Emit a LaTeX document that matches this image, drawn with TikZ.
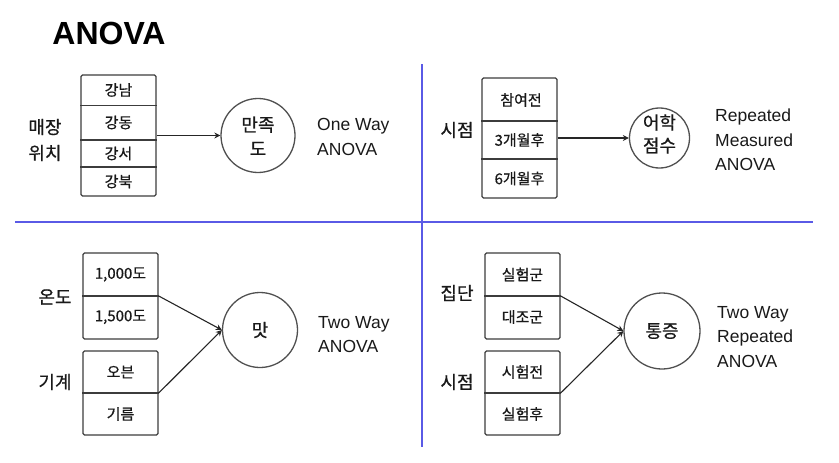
\documentclass[tikz,border=0pt]{standalone}
\usepackage{fontspec}
\setmainfont{Liberation Sans}
\newfontfamily\kr[FakeBold=0.6]{Noto Sans CJK KR}
\usetikzlibrary{arrows.meta}
\definecolor{divblue}{HTML}{5A5AE6}
\definecolor{boxgray}{HTML}{3C3C3C}
\definecolor{circgray}{HTML}{505050}
\tikzset{
  frame/.style={draw=boxgray, line width=1.4pt, rounded corners=1.5pt, inner sep=0pt, minimum width=#1},
  cell/.style={font=\kr\fontsize{15}{17}\selectfont, text=black!90, inner sep=0pt},
  side/.style={font=\kr\fontsize{18}{26}\selectfont, text=black!90, inner sep=0pt},
  circ/.style={draw=circgray, line width=1.3pt, circle, minimum size=#1, inner sep=0pt},
  inlabel/.style={font=\kr\fontsize{18}{24}\selectfont, align=center, text=black!90, inner sep=0pt},
  eng/.style={font=\fontsize{17.5}{24.5}\selectfont, align=left, anchor=west, text=black!90, inner sep=0pt},
  arr/.style={-{Stealth[length=6pt,width=6pt]}, line width=1.1pt, draw=black!85},
  divider/.style={draw=boxgray, line width=1.4pt},
  sep/.style={draw=divblue, line width=2pt}
}
\begin{document}
\begin{tikzpicture}[x=1pt,y=-1pt]
\useasboundingbox (0,0) rectangle (839,463);
% title
\node[font=\bfseries\fontsize{32}{36}\selectfont, inner sep=0pt] (title) at (109,33) {ANOVA};
% separators
\coordinate (hl) at (15,221.5);
\coordinate (hr) at (813,221.5);
\coordinate (vt) at (422,64);
\coordinate (vb) at (422,447);
\draw[sep] (hl) -- (hr);
\draw[sep] (vt) -- (vb);

% ---------- top left ----------
\node[frame=75pt, minimum height=121pt] (fTL) at (118.5,135.5) {};
\draw[divider] (fTL.west |- 0,105.5) -- (fTL.east |- 0,105.5);
\draw[divider] (fTL.west |- 0,140) -- (fTL.east |- 0,140);
\draw[divider] (fTL.west |- 0,167) -- (fTL.east |- 0,167);
\node[cell] (c11) at (118.5,90) {강남};
\node[cell] (c12) at (118.5,122.5) {강동};
\node[cell] (c13) at (118.5,153.5) {강서};
\node[cell] (c14) at (118.5,181.5) {강북};
\node[side, align=center] (sTL) at (45,140) {매장\\위치};
\node[circ=74pt] (oTL) at (258,135.5) {};
\node[inlabel, text depth=0pt] (tTL) at (258,136) {만족\\도};
\node[eng] (eTL) at (317,137) {One Way\\ANOVA};
\draw[arr] (fTL.east) -- (oTL);

% ---------- top right ----------
\node[frame=75pt, minimum height=120pt] (fTR) at (519.5,138) {};
\draw[divider] (fTR.west |- 0,121) -- (fTR.east |- 0,121);
\draw[divider] (fTR.west |- 0,159) -- (fTR.east |- 0,159);
\node[cell] (c21) at (521,100) {참여전};
\node[cell] (c22) at (519.5,140) {3개월후};
\node[cell] (c23) at (519.5,178.5) {6개월후};
\node[side] (sTR) at (457,130) {시점};
\node[circ=60pt] (oTR) at (659.5,138) {};
\node[inlabel, font=\kr\fontsize{18}{23}\selectfont] (tTR) at (659.5,134) {어학\\점수};
\node[eng] (eTR) at (715,140) {Repeated\\Measured\\ANOVA};
\draw[arr] (fTR.east) -- (oTR);

% ---------- bottom left ----------
\node[frame=75pt, minimum height=86pt] (fBL1) at (120.5,296) {};
\draw[divider] (fBL1.west) -- (fBL1.east);
\node[frame=75pt, minimum height=84pt] (fBL2) at (120.5,393) {};
\draw[divider] (fBL2.west) -- (fBL2.east);
\node[cell] (c31) at (120.5,274.5) {1,000도};
\node[cell] (c32) at (120.5,317) {1,500도};
\node[cell] (c33) at (120.5,372) {오븐};
\node[cell] (c34) at (120.5,414) {기름};
\node[side] (sBL1) at (55,297) {온도};
\node[side] (sBL2) at (55,382) {기계};
\node[circ=75pt] (oBL) at (260,330) {};
\node[inlabel] (tBL) at (260,330) {맛};
\node[eng] (eBL) at (318,334.5) {Two Way\\ANOVA};
\draw[arr] (fBL1.east) -- (oBL.west);
\draw[arr] (fBL2.east) -- (oBL.west);

% ---------- bottom right ----------
\node[frame=75pt, minimum height=86pt] (fBR1) at (522.5,296) {};
\draw[divider] (fBR1.west) -- (fBR1.east);
\node[frame=75pt, minimum height=84pt] (fBR2) at (522.5,393) {};
\draw[divider] (fBR2.west) -- (fBR2.east);
\node[cell] (c41) at (522.5,274.5) {실험군};
\node[cell] (c42) at (522.5,317) {대조군};
\node[cell] (c43) at (522.5,372) {시험전};
\node[cell] (c44) at (522.5,414) {실험후};
\node[side] (sBR1) at (457,293) {집단};
\node[side] (sBR2) at (457,382) {시점};
\node[circ=76pt] (oBR) at (662,331) {};
\node[inlabel] (tBR) at (662,331) {통증};
\node[eng] (eBR) at (717,337) {Two Way\\Repeated\\ANOVA};
\draw[arr] (fBR1.east) -- (oBR.west);
\draw[arr] (fBR2.east) -- (oBR.west);
\end{tikzpicture}
\end{document}
